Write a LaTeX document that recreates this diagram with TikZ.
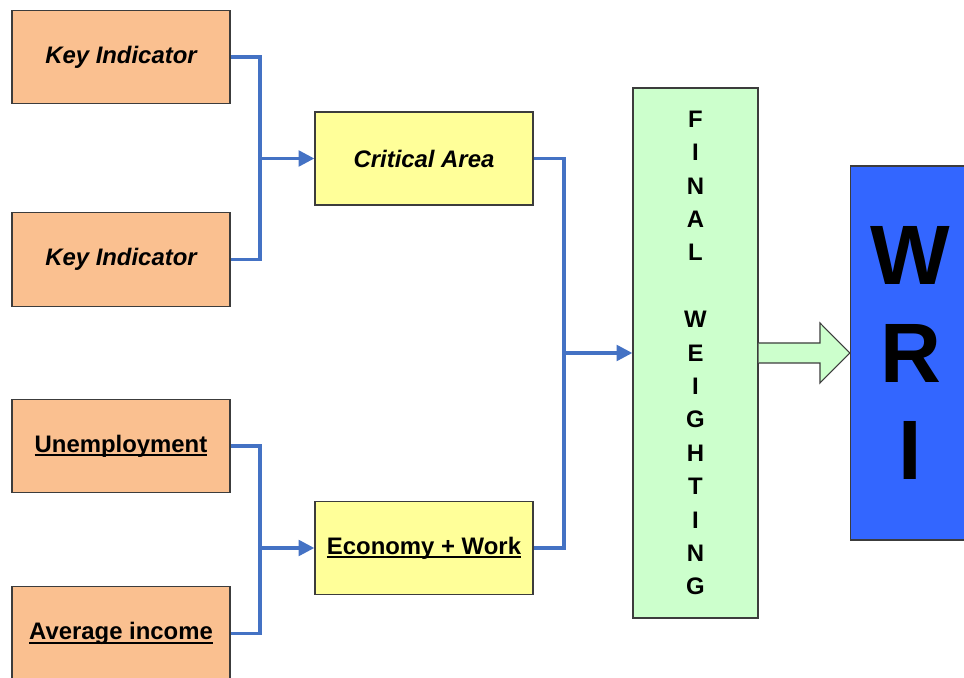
\documentclass[tikz,border=0pt]{standalone}
\usepackage{xcolor}
\usepackage{fontspec}
\setmainfont{Liberation Sans}
\usepackage{tikz}
\usetikzlibrary{arrows.meta, positioning, calc}
\definecolor{inputC}{RGB}{250, 192, 144}
\definecolor{areaC}{RGB}{255, 255, 153}
\definecolor{weightC}{RGB}{204, 255, 204}
\definecolor{indexC}{RGB}{51, 102, 255}
\definecolor{linkC}{RGB}{68, 114, 196}
\definecolor{edgeC}{RGB}{60, 60, 60}
% heavier underline, close to the baseline
\newcommand{\boldul}[1]{\setbox0\hbox{#1}\rlap{\rule[-2.4pt]{\wd0}{1.1pt}}\box0}

\begin{document}
\begin{tikzpicture}[
    x=0.02cm, y=-0.02cm,
    box/.style={rectangle, draw=edgeC, line width=0.8pt, text centered, font=\fontsize{13.6}{16}\selectfont\bfseries},
    indicator/.style={box, fill=inputC, minimum width=4.36cm, minimum height=1.87cm},
    area/.style={box, fill=areaC, minimum width=4.36cm, minimum height=1.86cm},
    weighting/.style={box, fill=weightC, minimum width=2.5cm, minimum height=10.6cm, align=center, font=\fontsize{13.6}{19}\selectfont\bfseries},
    index/.style={box, fill=indexC, minimum width=2.4cm, minimum height=7.48cm, align=center, font=\fontsize{48}{55.5}\selectfont\bfseries},
    link/.style={draw=linkC, line width=1.8pt},
    fatarrow/.style={draw=edgeC, line width=0.6pt, fill=weightC, line join=miter}
]
    \useasboundingbox (0,0) rectangle (964,678);
    \clip (0,0) rectangle (964,678);

    \node[indicator] (key1) at (121,57) {\itshape Key Indicator};
    \node[indicator] (key2) at (121,259.5) {\itshape Key Indicator};
    \node[indicator] (unemp) at (121,446) {\boldul{Unemployment}};
    \node[indicator] (income) at (121,633.5) {\boldul{Average income}};

    \node[area] (crit) at (424,158.5) {\itshape Critical Area};
    \node[area] (econ) at (424,548) {\boldul{Economy + Work}};

    \node[weighting] (final) at (695.5,353) {F\\I\\N\\A\\L\\~\\W\\E\\I\\G\\H\\T\\I\\N\\G};
    \node[index] (wri) at (910.5,353) {W\\R\\I};

    \coordinate (join1) at (260,0 |- crit.west);
    \coordinate (join2) at (260,0 |- econ.west);
    \coordinate (join3) at (564,0 |- final.west);

    \draw[link] (key1.east) -| (join1) |- (key2.east);
    \draw[link, -{Triangle[length=9pt, width=9pt]}] (join1) -- (crit.west);
    \draw[link] (unemp.east) -| (join2) |- (income.east);
    \draw[link, -{Triangle[length=9pt, width=9pt]}] (join2) -- (econ.west);
    \draw[link] (crit.east) -| (join3) |- (econ.east);
    \draw[link, -{Triangle[length=9pt, width=9pt]}] (join3) -- (final.west);

    \draw[fatarrow] (final.east |- 0,343) -- (820,343) -- (820,323) -- (wri.west)
        -- (820,383) -- (820,363) -- (final.east |- 0,363);
\end{tikzpicture}
\end{document}
